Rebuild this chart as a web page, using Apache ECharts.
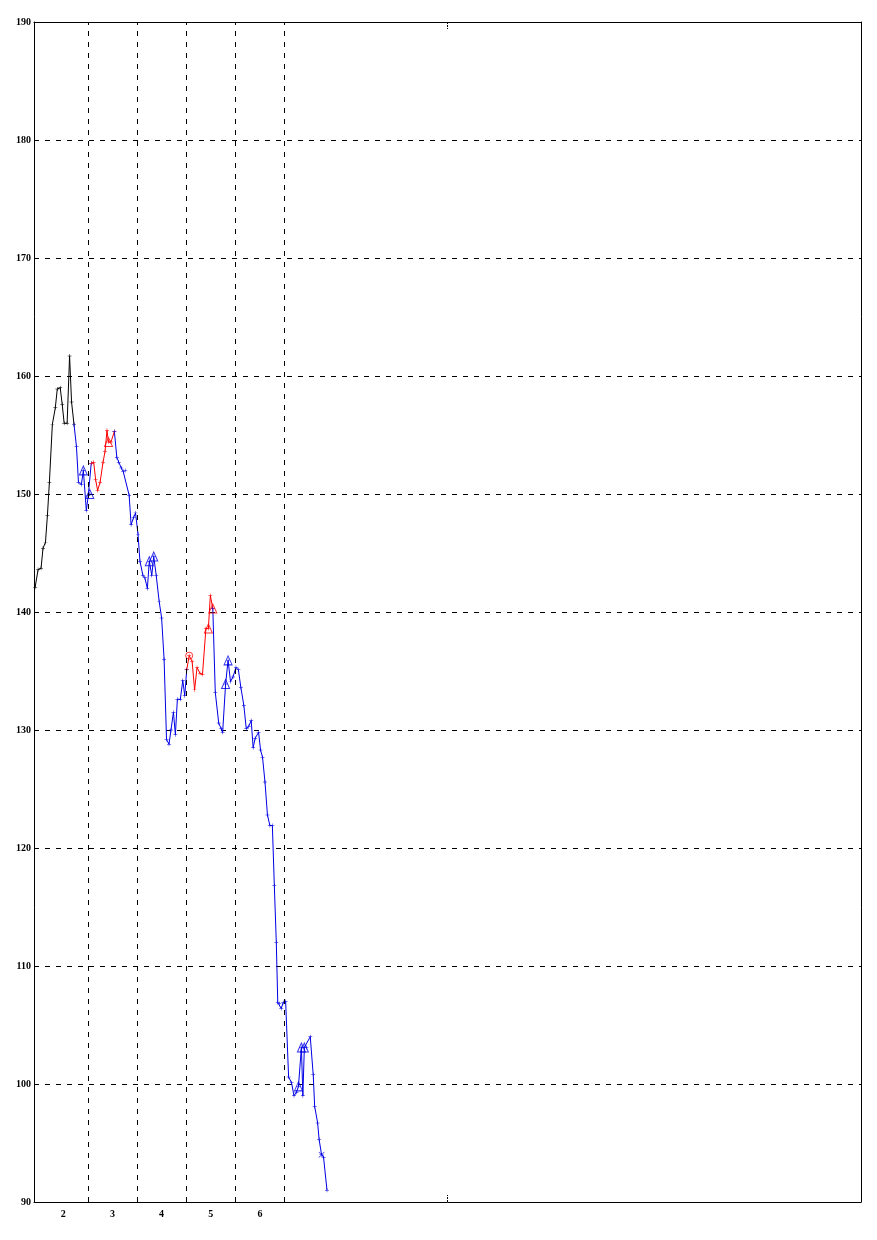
<!DOCTYPE html>
<html><head><meta charset="utf-8">
<script src="https://cdn.jsdelivr.net/npm/echarts@6/dist/echarts.min.js"></script>
<style>html,body{margin:0;padding:0;background:#fff}#c{width:877px;height:1240px}</style>
</head><body><div id="c"></div>
<script>
// x positions (month units), one per trading day
const months = [1.43,1.49,1.55,1.59,1.64,1.68,1.72,1.78,1.84,1.88,1.94,1.98,2.02,2.08,2.13,2.17,2.22,
  2.27,2.31,2.37,2.41,2.47,2.51,2.54,
  2.57,
  2.62,2.66,2.70,2.75,2.81,2.85,2.89,2.92,2.97,3.04,
  3.09,3.13,3.18,3.22,3.26,3.34,3.38,3.43,3.47,3.52,3.56,3.62,3.66,3.71,3.75,3.80,3.84,3.89,3.95,4.00,4.05,4.10,4.15,4.19,4.24,4.28,4.32,4.38,4.43,4.47,4.51,
  4.56,4.62,4.67,4.72,4.78,4.83,4.90,4.95,4.99,5.04,
  5.09,5.16,5.21,5.24,5.30,5.35,5.40,5.45,5.51,5.56,5.61,5.67,5.72,5.77,5.82,5.86,5.90,5.97,6.01,6.05,6.10,6.15,6.20,6.25,6.29,6.33,6.36,6.39,6.43,6.47,6.52,
  6.58,6.64,6.69,6.74,6.78,6.84,6.87,6.90,6.94,7.02,7.08,7.11,7.17,7.20,7.25,7.29,7.36];
const prices = [142.1,143.6,143.7,145.4,145.9,148.2,151.0,155.9,157.3,158.9,159.0,157.6,156.0,156.0,161.7,157.8,155.9,
  154.0,151.0,150.8,152.0,148.6,149.9,150.0,
  152.6,
  152.7,151.2,150.3,151.0,152.7,153.6,155.4,154.4,154.4,155.3,
  153.1,152.7,152.2,151.9,152.0,149.9,147.4,148.0,148.4,146.6,144.3,143.1,142.9,142.0,144.3,143.1,144.7,143.1,140.9,139.5,136.0,129.2,128.8,130.0,131.5,129.6,132.6,132.6,134.2,132.9,135.1,
  136.3,135.8,133.4,135.3,134.8,134.7,138.6,138.6,141.4,140.3,
  133.2,130.6,130.1,129.8,133.9,135.9,134.1,134.5,135.3,135.1,133.6,132.1,130.1,130.3,130.8,128.5,129.3,129.8,128.3,127.7,125.6,122.8,121.9,121.9,116.8,112.0,106.9,106.8,106.4,106.9,107.0,
  100.6,100.1,99.0,99.3,99.8,103.1,99.0,103.1,103.1,104.0,100.8,98.1,96.7,95.3,94.0,93.8,91.0];
// segments of the path: [first index, last index, kind]
const segStart = [0, 16, 24, 34, 65, 75];
const segEnd   = [16, 24, 34, 65, 75, 123];
const segKind  = ['base','down','up','down','up','down'];
// special marker indices
const triangleIdx = [20,23,32,49,51,73,75,80,81,111,112,114];
const circleIdx = [66];
const crossIdx = [121];
// axes
const yTicks = [90,100,110,120,130,140,150,160,170,180,190];
const xTickLabels = [2,3,4,5,6];
const monthBoundaries = [2.5,3.5,4.5,5.5,6.5];
const xMin = 1.407, xMax = 18.21, centerTick = 9.81;

const kindColor = {base:'#000000', down:'#0000e6', up:'#ff0000'};
const font = {fontFamily:'Liberation Serif', fontWeight:'bold', fontSize:10, color:'#000'};
const plus = 'path://M4.4,0h1.2v10h-1.2z M0,4.4h10v1.2h-10z';
const cross = 'path://M0,0.8L0.8,0L5,4.2L9.2,0L10,0.8L5.8,5L10,9.2L9.2,10L5,5.8L0.8,10L0,9.2L4.2,5z';

function colorAt(i){
  for (let k=0;k<segStart.length;k++) if (i>=segStart[k] && i<=segEnd[k]) return kindColor[segKind[k]];
  return '#000';
}

const series = [];
segStart.forEach((s,k)=>{
  const d=[];
  for(let i=s;i<=segEnd[k];i++) d.push([months[i],prices[i]]);
  const ser = {type:'line', data:d, symbol:plus, symbolSize:4, showSymbol:true,
    lineStyle:{color:kindColor[segKind[k]], width:1}, itemStyle:{color:kindColor[segKind[k]]},
    animation:false, silent:true, z:3};
  if (k===0) ser.markLine = {silent:true, symbol:'none', label:{show:false},
    lineStyle:{color:'#000', type:[5,6], width:1},
    data: monthBoundaries.map(v=>({xAxis:v}))};
  series.push(ser);
});
function markerSeries(idx, sym, size){
  return {type:'scatter', symbol:sym, symbolSize:size, animation:false, silent:true, z:4,
    data: idx.map(i=>({value:[months[i],prices[i]], itemStyle:{color:sym==='path'?colorAt(i):'rgba(0,0,0,0)', borderColor:colorAt(i), borderWidth:1}}))};
}
series.push(markerSeries(triangleIdx,'triangle',[8,9]));
series.push(markerSeries(circleIdx,'circle',7));
const cs = {type:'scatter', symbol:cross, symbolSize:6, animation:false, silent:true, z:4,
  data: crossIdx.map(i=>({value:[months[i],prices[i]], itemStyle:{color:colorAt(i)}}))};
series.push(cs);

const chart = echarts.init(document.getElementById('c'), null, {renderer:'canvas'});
chart.setOption({
  backgroundColor:'#fff',
  animation:false,
  grid:{left:34, right:16, top:22, bottom:38, containLabel:false},
  xAxis:[
    {type:'value', min:xMin, max:xMax, position:'bottom',
      axisLine:{show:true, lineStyle:{color:'#000', width:1}},
      axisTick:{show:true, inside:true, length:7, customValues:[centerTick], lineStyle:{color:'#000', type:[2,1]}},
      axisLabel:{show:true, customValues:xTickLabels, margin:7, ...font},
      splitLine:{show:false}},
    {type:'value', min:xMin, max:xMax, position:'top',
      axisLine:{show:true, lineStyle:{color:'#000', width:1}},
      axisTick:{show:true, inside:true, length:7, customValues:[centerTick], lineStyle:{color:'#000', type:[2,1]}},
      axisLabel:{show:false}, splitLine:{show:false}}
  ],
  yAxis:[
    {type:'value', min:yTicks[0], max:yTicks[yTicks.length-1], interval:10, position:'left',
      axisLine:{show:true, lineStyle:{color:'#000', width:1}},
      axisTick:{show:false},
      axisLabel:{margin:3, ...font},
      splitLine:{show:true, lineStyle:{color:'#000', type:[5,6], width:1}}},
    {type:'value', min:yTicks[0], max:yTicks[yTicks.length-1], interval:10, position:'right',
      axisLine:{show:true, lineStyle:{color:'#000', width:1}},
      axisTick:{show:false}, axisLabel:{show:false}, splitLine:{show:false}}
  ],
  series: series
});
</script></body></html>
